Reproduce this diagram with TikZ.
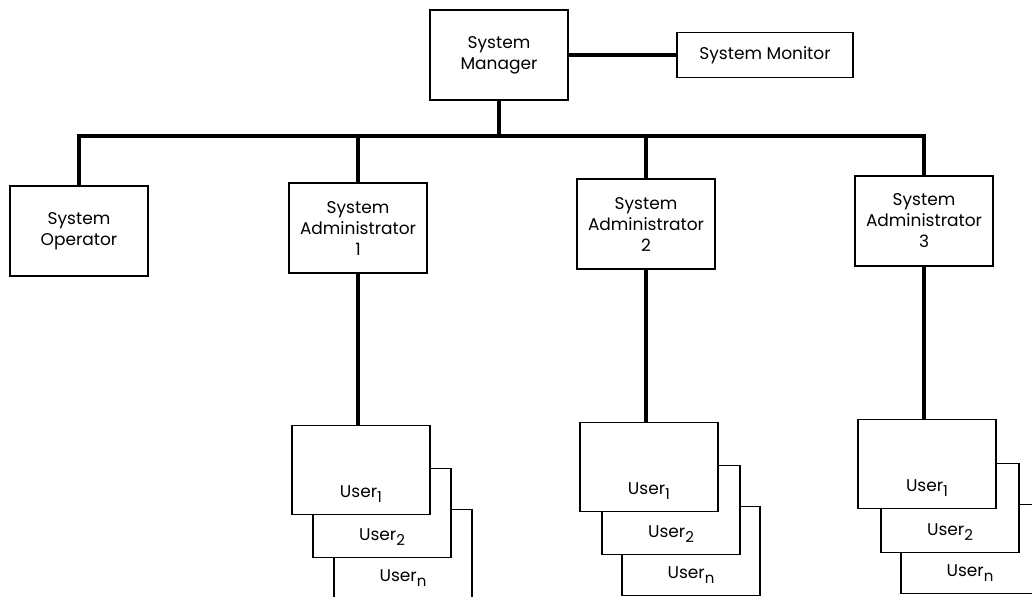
\documentclass[tikz,border=0pt]{standalone}
\usepackage{fontspec}
\setmainfont{Poppins}
\usetikzlibrary{positioning}
\newcommand{\usr}[1]{User\raisebox{-0.55ex}{\fontsize{7.5}{8}\selectfont#1}}
\tikzstyle{unit}=[draw, line width=0.7pt, fill=white, minimum width=69pt, minimum height=45pt, align=center, inner sep=2pt, font=\fontsize{8.5}{10.5}\selectfont]
\tikzstyle{user}=[unit, minimum height=44.5pt, text height=30pt, text depth=3pt]
\tikzstyle{link}=[line width=2pt]

\begin{document}
\begin{tikzpicture}[x=0.5pt, y=-0.5pt]
    \useasboundingbox (0,0) rectangle (1032,596);

    \node[unit] (mgr) at (499,55)  {System\\Manager};
    \node[unit, minimum width=88pt, minimum height=22.5pt] (mon) at (765,55) {System Monitor};
    \coordinate (bus) at (499,136);

    \node[unit] (op) at (79,231)  {System\\Operator};
    \node[unit] (a1) at (358,228) {System\\Administrator\\1};
    \node[unit] (a2) at (646,224) {System\\Administrator\\2};
    \node[unit] (a3) at (924,221) {System\\Administrator\\3};

    % users, back to front
    \node[user] (u1n) at (403,554) {\usr{n}};
    \node[user] (u12) at (382,513) {\usr{2}};
    \node[user] (u11) at (361,470) {\usr{1}};

    \node[user] (u2n) at (691,551) {\usr{n}};
    \node[user] (u22) at (671,510) {\usr{2}};
    \node[user] (u21) at (649,467) {\usr{1}};

    \node[user] (u3n) at (970,549) {\usr{n}};
    \node[user] (u32) at (950,508) {\usr{2}};
    \node[user] (u31) at (927,464) {\usr{1}};

    \path[link]
      (mgr.east)  edge (mon.west)
      (mgr.south) edge (mgr.south |- bus)
      (a1.north)  edge (a1.north |- bus)
      (a2.north)  edge (a2.north |- bus)
      (a1.south)  edge (a1.south |- u11.north)
      (a2.south)  edge (a2.south |- u21.north)
      (a3.south)  edge (a3.south |- u31.north);
    \draw[link] (op.north) |- (bus -| a3.north) -- (a3.north);
\end{tikzpicture}
\end{document}
